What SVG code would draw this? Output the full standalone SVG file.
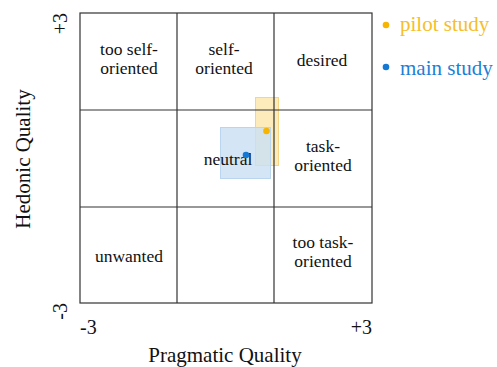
<svg xmlns="http://www.w3.org/2000/svg" width="497" height="367" viewBox="0 0 497 367">
  <style>
    .lbl { font-family: "Liberation Serif", "Times New Roman", serif; font-size: 17.5px; fill: #111; text-anchor: middle; }
    .axis { font-family: "Liberation Serif", "Times New Roman", serif; font-size: 21px; fill: #111; }
    .tick { font-family: "Liberation Serif", "Times New Roman", serif; font-size: 20px; fill: #111; }
    .grid { stroke: #333; stroke-width: 1.2; fill: none; }
  </style>
  <rect width="497" height="367" fill="#fff"/>

  <!-- study ranges -->
  <g id="ranges">
    <rect id="pilot-range" x="255.5" y="97.5" width="23" height="68" fill="#FDE8B0" fill-opacity="0.85" stroke="#F6D583" stroke-width="1"/>
    <rect id="main-range" x="220.5" y="127.5" width="50" height="51" fill="#C9E0F4" fill-opacity="0.8" stroke="#B9D6EE" stroke-width="1"/>
  </g>

  <!-- quadrant grid -->
  <g id="connectors">
    <rect class="grid" x="80" y="13" width="292" height="290"/>
    <line class="grid" x1="177" y1="13" x2="177" y2="303"/>
    <line class="grid" x1="274" y1="13" x2="274" y2="303"/>
    <line class="grid" x1="80" y1="110" x2="372" y2="110"/>
    <line class="grid" x1="80" y1="207" x2="372" y2="207"/>
  </g>

  <!-- quadrant labels -->
  <g id="too-self-oriented"><text class="lbl" x="129" y="55">too self-</text><text class="lbl" x="129" y="74">oriented</text></g>
  <g id="self-oriented"><text class="lbl" x="224" y="55">self-</text><text class="lbl" x="224" y="74">oriented</text></g>
  <g id="desired"><text class="lbl" x="322" y="66">desired</text></g>
  <g id="neutral"><text class="lbl" x="228" y="165">neutral</text></g>
  <g id="task-oriented"><text class="lbl" x="323" y="152">task-</text><text class="lbl" x="323" y="171">oriented</text></g>
  <g id="unwanted"><text class="lbl" x="129" y="262">unwanted</text></g>
  <g id="too-task-oriented"><text class="lbl" x="323" y="248">too task-</text><text class="lbl" x="323" y="267">oriented</text></g>

  <!-- study means -->
  <g id="points">
    <circle id="pilot-mean" cx="266.5" cy="131" r="3.3" fill="#F7B500"/>
    <circle id="main-mean" cx="246" cy="155" r="3.3" fill="#1579D3"/>
  </g>

  <!-- axes -->
  <g id="axes">
    <text class="axis" x="225" y="362" text-anchor="middle">Pragmatic Quality</text>
    <text class="axis" transform="translate(30,159) rotate(-90)" text-anchor="middle">Hedonic Quality</text>
    <text class="tick" x="80" y="334">-3</text>
    <text class="tick" x="372" y="334" text-anchor="end">+3</text>
    <text class="tick" transform="translate(67,13) rotate(-90)" text-anchor="end">+3</text>
    <text class="tick" transform="translate(67,303) rotate(-90)" text-anchor="end">-3</text>
  </g>

  <!-- legend -->
  <g id="legend" font-family="'Liberation Serif', 'Times New Roman', serif" font-size="21">
    <circle cx="386" cy="25" r="3.3" fill="#F7B500"/>
    <text x="400" y="31" fill="#F6BE2A" font-family="'Liberation Serif', serif">pilot study</text>
    <circle cx="386" cy="67" r="3.3" fill="#1579D3"/>
    <text x="400" y="75" fill="#1C7FD6" font-family="'Liberation Serif', serif">main study</text>
  </g>
</svg>
